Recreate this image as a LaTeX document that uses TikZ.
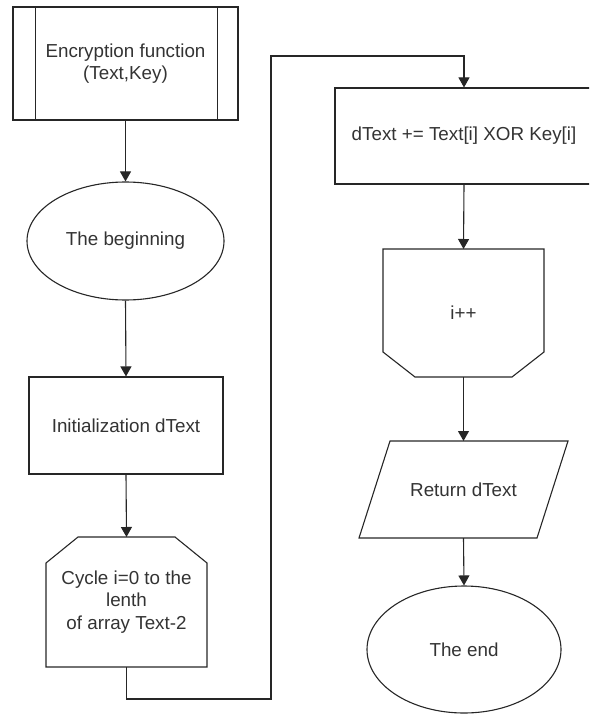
\documentclass[tikz,border=0pt]{standalone}
\usepackage{fontspec}
\setmainfont{Liberation Sans}
\usetikzlibrary{arrows.meta,calc,shapes.geometric}
\begin{document}
\begin{tikzpicture}[x=1pt,y=-1pt,
  every node/.style={font=\fontsize{18.8}{22.5}\selectfont, text=black!80, align=center, inner sep=0pt},
  edge/.style={draw=black!85, line width=1.1pt},
  arr/.style={edge, -{Triangle[length=10pt,width=11pt]}},
  box/.style={rectangle, draw=black!85, line width=1.1pt},
  hollow/.style={rectangle, draw=none, outer sep=0pt},
  oval/.style={ellipse, draw=black!85, line width=1.1pt},
]
\useasboundingbox (0,0) rectangle (589,714);
\clip (0,0) rectangle (589,714);

% left column
\node[box, minimum width=225pt, minimum height=113pt] (func) at (125.5,63.5) {Encryption function\\(Text,Key)};
\draw[edge] ($(func.north west)+(23,0)$) -- ($(func.south west)+(23,0)$);
\draw[edge] ($(func.north east)+(-21,0)$) -- ($(func.south east)+(-21,0)$);

\node[oval, minimum width=197pt, minimum height=118pt] (begin) at (125.5,241) {The beginning};

\node[box, minimum width=194pt, minimum height=97pt] (init) at (126,425.5) {Initialization dText};

\node[hollow, minimum width=161pt, minimum height=130pt] (cyc) at (126.5,602) {Cycle i=0 to the\\lenth\\of array Text-2};
\draw[edge] (cyc.south west) -- ($(cyc.north west)+(0,26)$) -- ($(cyc.north west)+(32,0)$)
  -- ($(cyc.north east)+(-32,0)$) -- ($(cyc.north east)+(0,26)$) -- (cyc.south east) -- cycle;

% right column
\node[box, minimum width=258pt, minimum height=96pt] (xor) at (464,136) {dText += Text[i] XOR Key[i]};

\node[hollow, minimum width=161pt, minimum height=128pt] (inc) at (463.5,313) {i++};
\draw[edge] (inc.north west) -- (inc.north east) -- ($(inc.south east)+(0,-25)$)
  -- ($(inc.south east)+(-32,0)$) -- ($(inc.south west)+(32,0)$) -- ($(inc.south west)+(0,-25)$) -- cycle;

\node[hollow, minimum width=209pt, minimum height=97pt] (ret) at (463.5,489.5) {Return dText};
\draw[edge] (ret.south west) -- ($(ret.north west)+(31,0)$) -- (ret.north east)
  -- ($(ret.south east)+(-31,0)$) -- cycle;

\node[oval, minimum width=194pt, minimum height=127pt] (finish) at (464,649.5) {The end};

% connectors
\draw[arr] (func.south) -- (begin.north);
\draw[arr] (begin.south) -- (init.north);
\draw[arr] (init.south) -- (cyc.north);
\coordinate (turn) at (271,56);
\draw[arr] (cyc.south) -- ++(0,32) -| (turn) -| (xor.north);
\draw[arr] (xor.south) -- (inc.north);
\draw[arr] (inc.south) -- (ret.north);
\draw[arr] (ret.south) -- (finish.north);
\end{tikzpicture}
\end{document}
